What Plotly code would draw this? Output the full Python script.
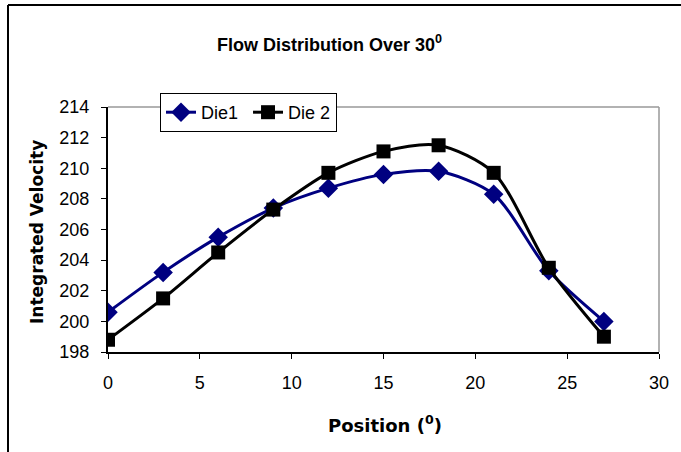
import plotly.graph_objects as go

positions = [0, 3, 6, 9, 12, 15, 18, 21, 24, 27]
die1 = [200.6, 203.2, 205.5, 207.4, 208.7, 209.6, 209.8, 208.3, 203.3, 200.0]
die2 = [198.8, 201.5, 204.5, 207.3, 209.7, 211.1, 211.5, 209.7, 203.5, 199.0]

W, H = 681, 452
L, R, T, B = 108, 659, 107, 352

def px(x):
    return (x - L) / (R - L)

def py(y):
    return (B - y) / (B - T)

fig = go.Figure()
fig.add_trace(go.Scatter(x=positions, y=die1, name="Die1 ", mode="lines+markers",
                         line=dict(color="#000080", width=3, shape="spline", smoothing=0.8),
                         marker=dict(symbol="diamond", size=15, color="#000080")))
fig.add_trace(go.Scatter(x=positions, y=die2, name="Die 2", mode="lines+markers",
                         line=dict(color="#000000", width=3, shape="spline", smoothing=0.8),
                         marker=dict(symbol="square", size=14, color="#000000")))

font = "Arial, Liberation Sans, sans-serif"
vfont = "DejaVu Sans, Verdana, sans-serif"
fig.update_layout(
    width=W, height=H,
    margin=dict(l=L, r=W - R, t=T, b=H - B),
    paper_bgcolor="white", plot_bgcolor="white",
    showlegend=True,
    legend=dict(orientation="h", x=px(160), y=py(93), xanchor="left", yanchor="top",
                bordercolor="black", borderwidth=1, bgcolor="white",
                font=dict(family=font, size=18, color="black"),
                itemwidth=30, tracegroupgap=0),
    xaxis=dict(range=[0, 30], dtick=5, tick0=0, showgrid=False, zeroline=False,
               showline=True, linecolor="black", linewidth=2,
               ticks="outside", ticklen=5, tickcolor="black", ticklabelstandoff=8,
               tickfont=dict(family=font, size=18, color="black")),
    yaxis=dict(range=[198, 214], dtick=2, tick0=198, showgrid=False, zeroline=False,
               showline=True, linecolor="black", linewidth=2,
               ticks="outside", ticklen=5, tickcolor="black", ticklabelstandoff=8,
               tickfont=dict(family=font, size=18, color="black")),
    shapes=[
        dict(type="line", xref="paper", yref="paper", x0=0, x1=1, y0=1, y1=1,
             line=dict(color="#999999", width=1.5)),
        dict(type="line", xref="paper", yref="paper", x0=1, x1=1, y0=0, y1=1,
             line=dict(color="#999999", width=1.5)),
        dict(type="line", xref="paper", yref="paper", x0=px(8), x1=px(690), y0=py(5), y1=py(5),
             line=dict(color="black", width=2)),
        dict(type="line", xref="paper", yref="paper", x0=px(8), x1=px(8), y0=py(5), y1=py(460),
             line=dict(color="black", width=2)),
    ],
    annotations=[
        dict(text="<b>Flow Distribution Over 30<sup>0</sup></b>", xref="paper", yref="paper",
             x=px(329), y=py(43), xanchor="center", yanchor="middle", showarrow=False,
             font=dict(family=font, size=18, color="black")),
        dict(text="<b>Position (<sup>0</sup>)</b>", xref="paper", yref="paper",
             x=px(385), y=py(424), xanchor="center", yanchor="middle", showarrow=False,
             font=dict(family=vfont, size=18, color="black")),
        dict(text="<b>Integrated Velocity</b>", xref="paper", yref="paper",
             x=px(37), y=py(232), xanchor="center", yanchor="middle", showarrow=False,
             textangle=-90,
             font=dict(family=vfont, size=17, color="black")),
    ],
)

fig.write_html("out.html")
